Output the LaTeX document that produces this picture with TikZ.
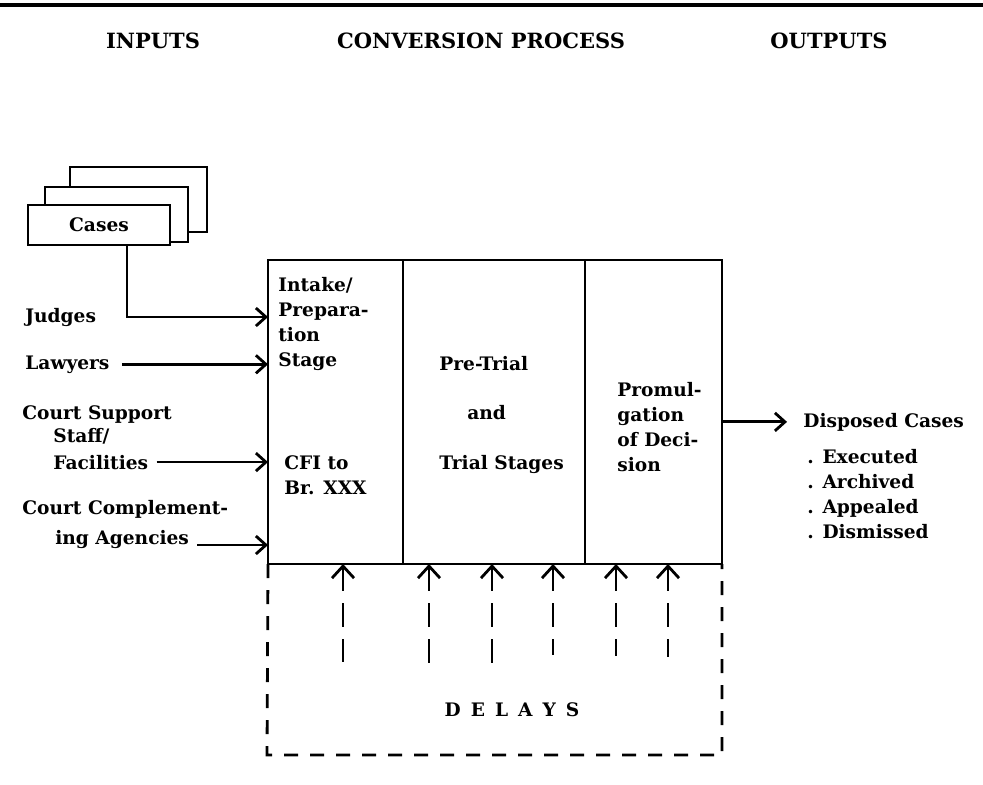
\documentclass[tikz,border=0pt]{standalone}
\usepackage{fontspec}
\setmainfont{DejaVu Serif}
\usetikzlibrary{arrows.meta}
\begin{document}
\begin{tikzpicture}[x=0.5pt, y=-0.5pt,
    every node/.style={font=\fontsize{9.3}{12.5}\selectfont\bfseries, inner sep=0pt},
    lbl/.style={anchor=base west},
    head/.style={font=\fontsize{10.5}{13}\selectfont\bfseries},
    stage/.style={draw, line width=1.4pt, outer sep=0pt, minimum height=152pt, anchor=north west},
    casebox/.style={draw, fill=white, line width=1.4pt, outer sep=0pt, anchor=north west},
    flow/.style={line width=1.4pt, -{Straight Barb[length=5pt, width=9pt]}},
    delay/.style={line width=1.4pt, {Straight Barb[length=6pt, width=11pt]}-, dash pattern=on 12pt off 6pt}]
        \useasboundingbox (0,0) rectangle (983,784);
        \draw[line width=1.6pt] (0,5) -- (983,5);
        % headings
        \node[head] (inputs) at (153,41) {INPUTS};
        \node[head] (conv) at (481,41) {CONVERSION PROCESS};
        \node[head] (outputs) at (829,41) {OUTPUTS};
        % pile of cases
        \node[casebox, minimum width=68.5pt, minimum height=32.5pt] (case3) at (70,167) {};
        \node[casebox, minimum width=71.5pt, minimum height=27.5pt] (case2) at (45,187) {};
        \node[casebox, minimum width=71pt, minimum height=20pt] (case1) at (28,205) {Cases};
        % inputs
        \node[lbl] (judges) at (25,322) {Judges};
        \node[lbl] (lawyers) at (25,369) {Lawyers};
        \node[lbl] (courtsup) at (22,419) {Court Support};
        \node[lbl] (staff) at (53,442) {Staff/};
        \node[lbl] (facil) at (53,469) {Facilities};
        \node[lbl] (courtcomp) at (22,514) {Court Complement-};
        \node[lbl] (agencies) at (55,544) {ing Agencies};
        % stages
        \node[stage, minimum width=67.5pt] (intake) at (268,260) {};
        \node[stage, minimum width=91pt] (trial) at (intake.north east) {};
        \node[stage, minimum width=68.5pt] (decision) at (trial.north east) {};
        \node[anchor=north west, align=left] (intaketxt) at (278,277) {Intake/\\Prepara-\\tion\\Stage};
        \node[anchor=north west, align=left] (cfi) at (284,455) {CFI to\\Br. XXX};
        \node[lbl] (pretrial) at (439,370) {Pre-Trial};
        \node[lbl] (and) at (467,419) {and};
        \node[lbl] (trialst) at (439,469) {Trial Stages};
        \node[anchor=north west, align=left] (promul) at (617,382) {Promul-\\gation\\of Deci-\\sion};
        % outputs
        \node[lbl] (disposed) at (803,427) {Disposed Cases};
        \node[anchor=north west, align=left] (kinds) at (807,449) {. Executed\\. Archived\\. Appealed\\. Dismissed};
        % connectors
        \draw[flow] ([xshift=14pt]case1.south) |- (judges -| intake.west);
        \draw[flow, shorten <=6pt] (lawyers) -- (lawyers -| intake.west);
        \draw[flow, shorten <=4pt] (facil) -- (facil -| intake.west);
        \draw[flow, shorten <=4pt] ([yshift=-3pt]agencies.east) -- ([yshift=-3pt]agencies.east -| intake.west);
        \draw[flow, shorten >=8pt] (decision.east |- disposed) -- (disposed.west);
        % delays
        \coordinate (dl) at (267,755);
        \coordinate (dr) at (722,755);
        \draw[line width=1.4pt, dash pattern=on 7pt off 6pt] (intake.south west) -- (dl) -- (dr) -- (decision.south east);
        \foreach \x/\y [count=\i] in {343/662, 429/664, 492/664, 553/655, 616/656, 668/657} {
            \coordinate (d\i) at (\x,\y);
            \draw[delay] (d\i |- intake.south) -- (d\i);
        }
        \node (delays) at (512,710) {D\kern5pt E\kern5pt L\kern5pt A\kern5pt Y\kern5pt S};
    \end{tikzpicture}
\end{document}
